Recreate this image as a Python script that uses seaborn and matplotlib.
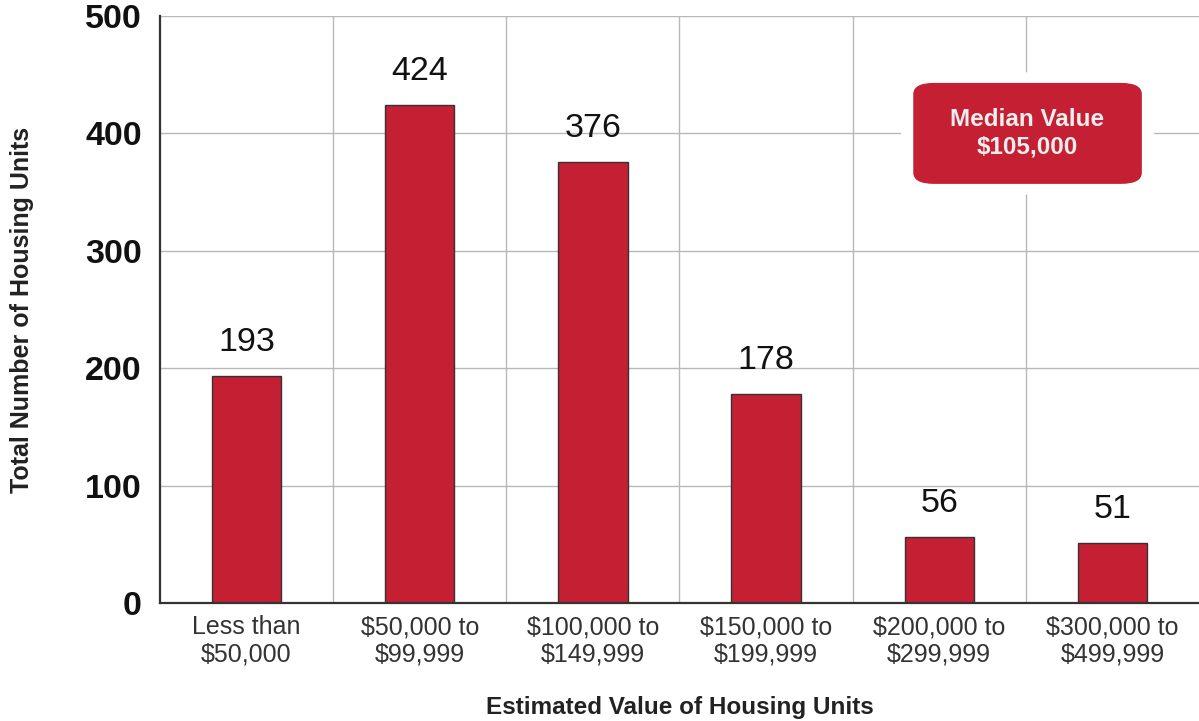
import matplotlib
matplotlib.use("Agg")
import matplotlib.pyplot as plt
from matplotlib.patches import FancyBboxPatch
import seaborn as sns
import pandas as pd

categories = ["Less than\n$50,000", "$50,000 to\n$99,999", "$100,000 to\n$149,999",
              "$150,000 to\n$199,999", "$200,000 to\n$299,999", "$300,000 to\n$499,999"]
units = [193, 424, 376, 178, 56, 51]
y_ticks = [0, 100, 200, 300, 400, 500]
median_label = "Median Value\n$105,000"

sns.set_theme(style="white")
plt.rcParams["font.family"] = ["Liberation Sans", "DejaVu Sans"]

bar_color = "#C41F32"
grid_color = "#b8b8b8"

df = pd.DataFrame({"category": categories, "units": units})

fig = plt.figure(figsize=(11.99, 7.21), dpi=100)
ax = fig.add_axes([0.1334, 0.1637, 0.8666, 0.8141])

sns.barplot(data=df, x="category", y="units", color=bar_color, saturation=1,
            width=0.4, edgecolor="#333333", linewidth=1.0, ax=ax, zorder=3)

ax.set_xlim(-0.5, len(categories) - 0.5)
ax.set_ylim(0, 500)
ax.set_yticks(y_ticks)
ax.set_yticklabels([str(t) for t in y_ticks], fontsize=24.5, fontweight="bold", color="#111111")
ax.tick_params(axis="y", length=0, pad=13)
ax.tick_params(axis="x", length=0, pad=9, labelsize=18, labelcolor="#333333")
for lbl in ax.get_xticklabels():
    lbl.set_linespacing(1.18)

# gridlines: horizontal at value ticks, vertical between categories
for t in y_ticks[1:]:
    ax.axhline(t, color=grid_color, linewidth=1.0, zorder=1)
for i in range(len(categories) - 1):
    ax.axvline(i + 0.5, color=grid_color, linewidth=1.0, zorder=1)

for side in ["top", "right"]:
    ax.spines[side].set_visible(False)
for side in ["left", "bottom"]:
    ax.spines[side].set_color("#333333")
    ax.spines[side].set_linewidth(1.6)
    ax.spines[side].set_zorder(4)

for i, v in enumerate(units):
    ax.annotate(str(v), (i, v), xytext=(0, 13), textcoords="offset points",
                ha="center", va="bottom", fontsize=24.5, color="#111111")

ax.set_ylabel("Total Number of Housing Units", fontsize=18, fontweight="bold",
              color="#222222")
ax.yaxis.set_label_coords(-0.133, 0.5)
ax.yaxis.label.set_va("center")
ax.set_xlabel("Estimated Value of Housing Units", fontsize=17.5, fontweight="bold",
              color="#222222")
ax.xaxis.set_label_coords(0.5, -0.189)
ax.xaxis.label.set_va("baseline")

# median callout with a white halo covering the grid behind it
halo = FancyBboxPatch((3.78, 348), 1.46, 104, boxstyle="round,pad=0,rounding_size=0.12",
                      mutation_aspect=80, facecolor="white", edgecolor="none", zorder=5)
box = FancyBboxPatch((3.85, 357), 1.32, 86, boxstyle="round,pad=0,rounding_size=0.12",
                     mutation_aspect=80, facecolor=bar_color, edgecolor="none", zorder=6)
ax.add_patch(halo)
ax.add_patch(box)
ax.text(4.51, 400, median_label, ha="center", va="center", fontsize=17.5,
        fontweight="bold", color="#EEEEEE", linespacing=1.25, zorder=7)

fig.savefig("out.png", dpi=100)
